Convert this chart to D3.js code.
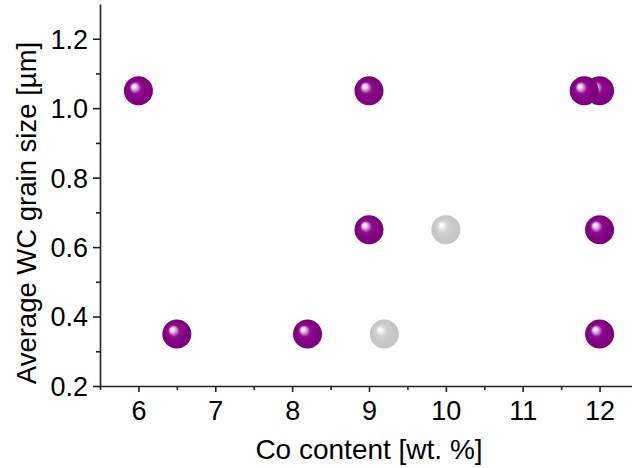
<!DOCTYPE html>
<html><head><meta charset="utf-8">
<script src="https://cdn.jsdelivr.net/npm/d3@7"></script>
<style>body{margin:0;background:#fff}svg{display:block}text{font-family:"Liberation Sans",Arial,sans-serif;fill:#000}</style>
</head><body>
<script>
const purpleX = [12, 11.8, 6, 9, 9, 12, 6.5, 8.2, 12];
const purpleY = [1.05, 1.05, 1.05, 1.05, 0.65, 0.65, 0.35, 0.35, 0.35];
const greyX = [10, 9.2];
const greyY = [0.65, 0.35];
const xTicks = [6, 7, 8, 9, 10, 11, 12];
const yTicks = [0.2, 0.4, 0.6, 0.8, 1.0, 1.2];
const xTitle = "Co content [wt. %]";
const yTitle = "Average WC grain size [µm]";

const W = 632, H = 468;
const svg = d3.select("body").append("svg").attr("width", W).attr("height", H);
const x = d3.scaleLinear().domain([5.5, 12.5]).range([100, 638]);
const y = d3.scaleLinear().domain([0.2, 1.3]).range([386, 4]);

const defs = svg.append("defs");
function grad(id, stops) {
  const g = defs.append("radialGradient").attr("id", id)
    .attr("cx", "0.5").attr("cy", "0.5").attr("r", "0.5").attr("fx", "0.33").attr("fy", "0.33");
  stops.forEach(s => g.append("stop").attr("offset", s[0]).attr("stop-color", s[1]));
}
grad("gp", [[0, "#ffffff"], [0.08, "#fdf4fd"], [0.17, "#e8bce8"], [0.28, "#c070c0"], [0.4, "#900c90"], [0.7, "#820082"], [1, "#7c007c"]]);
grad("gg", [[0, "#ffffff"], [0.1, "#fafafa"], [0.22, "#e8e8e8"], [0.38, "#d2d2d2"], [0.7, "#c8c8c8"], [1, "#c4c4c4"]]);

// axes
const xAxis = d3.axisBottom(x).tickValues(xTicks).tickSize(6).tickSizeOuter(0).tickFormat(d3.format("d"));
const xMinor = d3.axisBottom(x).tickValues(d3.range(5.5, 12.6, 0.5).filter(v => v % 1 !== 0)).tickSize(4).tickSizeOuter(0).tickFormat("");
const yAxis = d3.axisLeft(y).tickValues(yTicks).tickSize(7).tickSizeOuter(0).tickFormat(d3.format(".1f"));
const yMinor = d3.axisLeft(y).tickValues([0.3, 0.5, 0.7, 0.9, 1.1]).tickSize(4).tickSizeOuter(0).tickFormat("");

function style(g) {
  g.selectAll("path,line").attr("stroke", "#222").attr("stroke-width", 1.6);
  g.selectAll("text").attr("font-size", 27).attr("font-family", "Liberation Sans, Arial, sans-serif").attr("fill", "#000");
}
const gx = svg.append("g").attr("transform", "translate(0,386)").call(xAxis).call(style);
gx.selectAll("text").attr("dy", null).attr("y", 34);
svg.append("g").attr("transform", "translate(0,386)").call(xMinor).call(style).select(".domain").remove();
const gy = svg.append("g").attr("transform", "translate(100,0)").call(yAxis).call(style);
gy.selectAll("text").attr("x", -12).attr("dy", "0.35em");
svg.append("g").attr("transform", "translate(100,0)").call(yMinor).call(style).select(".domain").remove();

svg.append("text").attr("x", 369).attr("y", 459).attr("text-anchor", "middle").attr("font-size", 28).text(xTitle);
svg.append("text").attr("transform", "translate(36,213) rotate(-90)").attr("text-anchor", "middle").attr("font-size", 27.5).text(yTitle);

const R = 14.5;
svg.append("g").selectAll("circle").data(greyX.map((v, i) => [v, greyY[i]])).join("circle")
  .attr("cx", d => x(d[0])).attr("cy", d => y(d[1])).attr("r", R).attr("fill", "url(#gg)");
svg.append("g").selectAll("circle").data(purpleX.map((v, i) => [v, purpleY[i]])).join("circle")
  .attr("cx", d => x(d[0])).attr("cy", d => y(d[1])).attr("r", R).attr("fill", "url(#gp)");
</script>
</body></html>
